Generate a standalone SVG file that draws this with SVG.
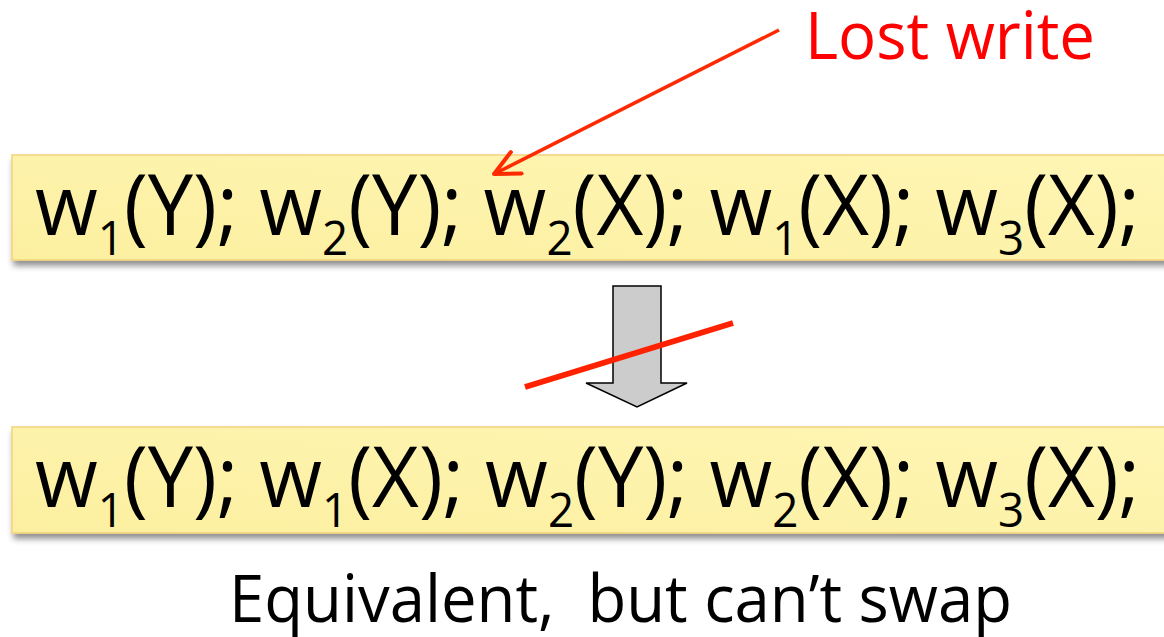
<svg xmlns="http://www.w3.org/2000/svg" width="1164" height="637" viewBox="0 0 1164 637">
<defs>
<linearGradient id="boxfill" x1="0" y1="1" x2="1" y2="0">
<stop offset="0" stop-color="#fcefa0"/>
<stop offset="1" stop-color="#fff6b5"/>
</linearGradient>
<filter id="shadow" x="-5%" y="-20%" width="110%" height="160%">
<feGaussianBlur in="SourceAlpha" stdDeviation="3"/>
<feOffset dx="2" dy="5" result="b"/>
<feComponentTransfer><feFuncA type="linear" slope="0.45"/></feComponentTransfer>
<feMerge><feMergeNode/><feMergeNode in="SourceGraphic"/></feMerge>
</filter>
<marker id="openhead" markerWidth="30" markerHeight="28" refX="27" refY="14" orient="auto" markerUnits="userSpaceOnUse" viewBox="0 0 30 28">
<path d="M2,2 L27,14 L2,26" fill="none" stroke="#ff2a00" stroke-width="4" stroke-linecap="round" stroke-linejoin="round"/>
</marker>
</defs>
<style>
.box{fill:url(#boxfill);stroke:#f5d27a;stroke-width:1.5;filter:url(#shadow)}
.seq{font-family:"Open Sans","Liberation Sans",sans-serif;font-size:85px;fill:#000}
.sub{font-size:48px}
.red{font-family:"Open Sans","Liberation Sans",sans-serif;font-size:65px;fill:#ff0000}
.cap{font-family:"Open Sans","Liberation Sans",sans-serif;font-size:66px;fill:#000}
</style>
<rect width="1164" height="637" fill="#ffffff"/>
<g id="node-schedule1">
<rect class="box" x="12" y="155" width="1160" height="105"/>
<text class="seq" x="35" y="235" textLength="1105" lengthAdjust="spacingAndGlyphs">w<tspan class="sub" dy="20">1</tspan><tspan dy="-20">(Y); w</tspan><tspan class="sub" dy="20">2</tspan><tspan dy="-20">(Y); w</tspan><tspan class="sub" dy="20">2</tspan><tspan dy="-20">(X); w</tspan><tspan class="sub" dy="20">1</tspan><tspan dy="-20">(X); w</tspan><tspan class="sub" dy="20">3</tspan><tspan dy="-20">(X);</tspan></text>
</g>
<g id="node-schedule2">
<rect class="box" x="12" y="427" width="1160" height="106"/>
<text class="seq" x="35" y="507" textLength="1105" lengthAdjust="spacingAndGlyphs">w<tspan class="sub" dy="20">1</tspan><tspan dy="-20">(Y); w</tspan><tspan class="sub" dy="20">1</tspan><tspan dy="-20">(X); w</tspan><tspan class="sub" dy="20">2</tspan><tspan dy="-20">(Y); w</tspan><tspan class="sub" dy="20">2</tspan><tspan dy="-20">(X); w</tspan><tspan class="sub" dy="20">3</tspan><tspan dy="-20">(X);</tspan></text>
</g>
<g id="node-lost-write">
<text class="red" x="805" y="59" textLength="290" lengthAdjust="spacingAndGlyphs">Lost write</text>
</g>
<g id="node-caption">
<text class="cap" x="229" y="622" textLength="783" lengthAdjust="spacingAndGlyphs">Equivalent,&#160; but can’t swap</text>
</g>
<g id="connectors">
<line x1="779" y1="30" x2="494" y2="174" stroke="#ff2a00" stroke-width="3.5" marker-end="url(#openhead)"/>
<path d="M613,286 L661,286 L661,383 L687,383 L637,407 L586,383 L613,383 Z" fill="#cccccc" stroke="#000" stroke-width="1.5"/>
<line x1="525" y1="387" x2="733" y2="323" stroke="#ff2200" stroke-width="6"/>
</g>
</svg>
